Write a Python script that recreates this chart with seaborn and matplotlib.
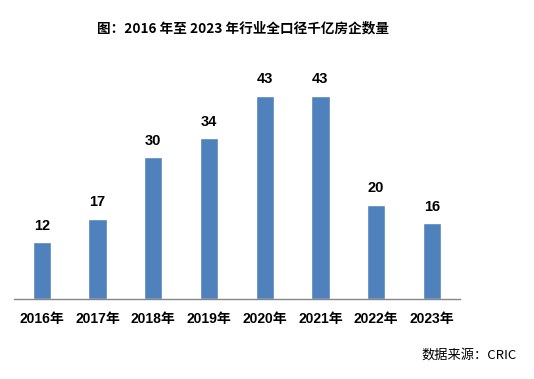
import matplotlib
matplotlib.use("Agg")
import matplotlib.pyplot as plt
import seaborn as sns
import pandas as pd
import numpy as np

years = ["2016年", "2017年", "2018年", "2019年", "2020年", "2021年", "2022年", "2023年"]
counts = [12, 17, 30, 34, 43, 43, 20, 16]
title = "图：2016 年至 2023 年行业全口径千亿房企数量"
source = "数据来源：CRIC"

sns.set_style("white")
plt.rcParams['font.family'] = ['Noto Sans CJK SC', 'DejaVu Sans']
plt.rcParams['text.color'] = 'black'
plt.rcParams['xtick.color'] = 'black'

df = pd.DataFrame({"year": years, "count": counts})

fig = plt.figure(figsize=(5.34, 3.79), dpi=100)
ax = fig.add_axes([0.026, 0.211, 0.835, 0.623])
sns.barplot(data=df, x="year", y="count", color="#4F81BD", width=0.33, ax=ax, saturation=1)

ax.set_ylim(0, 50)
ax.set_xlim(-0.5, len(years) - 0.5)
for s in ["top", "right", "left"]:
    ax.spines[s].set_visible(False)
ax.spines["bottom"].set_color("#868686")
ax.spines["bottom"].set_linewidth(1)
ax.set_yticks([])
ax.set_xlabel("")
ax.set_ylabel("")
ax.tick_params(axis="x", which="major", length=0, pad=9, labelcolor="black")
ax.set_xticks(np.arange(-0.5, len(years)), minor=True)
ax.tick_params(axis="x", which="minor", length=5, color="#868686", width=1)
for lbl in ax.get_xticklabels():
    lbl.set_fontweight("bold")
    lbl.set_fontsize(10)
    lbl.set_family(["Liberation Sans", "Noto Sans CJK SC"])

for c in ax.containers:
    ax.bar_label(c, labels=[str(v) for v in counts], padding=7, fontsize=10.5,
                 fontweight="bold", color="black", family=["Liberation Sans", "DejaVu Sans"])

fig.text(0.455, 0.925, title, ha="center", va="center", fontsize=9.8, fontweight="bold",
         color="black", family=["Noto Sans CJK SC", "DejaVu Sans"])
fig.text(0.968, 0.062, source, ha="right", va="center", fontsize=9.5,
         color="black", family=["Noto Sans CJK SC", "DejaVu Sans"])

fig.savefig("out.png", dpi=100)
